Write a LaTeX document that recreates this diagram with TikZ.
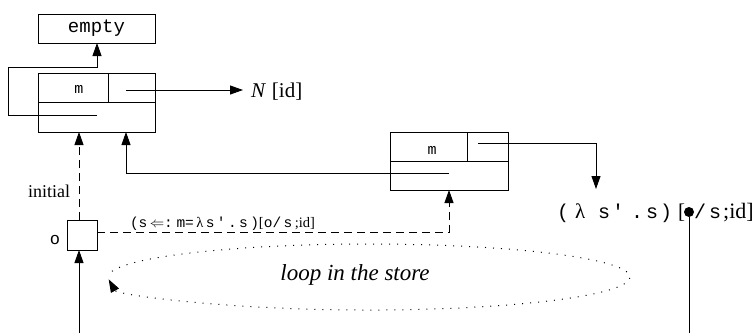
\documentclass[tikz,border=0pt]{standalone}
\usepackage{fontspec}
\setmainfont{Liberation Serif}
\setmonofont{Liberation Mono}
\usetikzlibrary{arrows.meta}
\begin{document}
\begin{tikzpicture}[x=1pt,y=-1pt,line width=0.9pt,
  box/.style={draw,rectangle,inner sep=0pt,outer sep=0pt},
  arr/.style={-{Triangle[length=13pt,width=9pt]}},
  dashln/.style={dash pattern=on 8pt off 5pt},
  dotln/.style={line width=1pt,dash pattern=on 1pt off 7pt},
  lbl/.style={inner sep=0pt,outer sep=0pt}]
\useasboundingbox (0,0) rectangle (756,333);
% top box
\node[box,minimum width=117pt,minimum height=29pt] (empty) at (96.5,28.5) {\fontsize{19}{19}\selectfont\ttfamily empty};
% left record
\node[box,minimum width=117pt,minimum height=59pt] (rec1) at (96.5,102.5) {};
\draw (38,102) -- (155,102);
\draw (108,73) -- (108,102);
\node[lbl] (m1) at (79,89) {\fontsize{15}{15}\selectfont\ttfamily m};
\coordinate (r1low) at (97,115);
\coordinate (r1ptr) at (126,90);
\draw[arr] (r1low) -- (8,115) -- (8,67) -- (97,67) -- (r1low |- empty.south);
\node[lbl,anchor=base west,inner xsep=8pt] (N) at (243,97) {\fontsize{21}{21}\selectfont\textit{N}\hspace{6pt}[id]};
\draw[arr] (r1ptr) -- (r1ptr -| N.west);
% middle record
\node[box,minimum width=118pt,minimum height=58pt] (rec2) at (449,161) {};
\draw (390,161) -- (508,161);
\draw (467,132) -- (467,161);
\node[lbl] (m2) at (432,150) {\fontsize{15}{15}\selectfont\ttfamily m};
\coordinate (r2ptr) at (478,143);
\coordinate (r2low) at (449,173);
\coordinate (lamtop) at (596,189);
\draw[arr] (r2ptr) -- (r2ptr -| lamtop) -- (lamtop);
\draw[arr] (r2low) -- (r1ptr |- r2low) -- (r1ptr |- rec1.south);
% lambda label
\node[lbl,anchor=base west] (lam) at (557,218) {\fontsize{20}{20}\selectfont\texttt{(}\hspace{6pt}{\fontsize{21}{21}\selectfont λ}\hspace{13pt}\texttt{s}\hspace{2pt}\texttt{'}\hspace{7pt}\texttt{.}\hspace{3pt}\texttt{s}\hspace{2pt}\texttt{)}\hspace{6pt}{\fontsize{21}{21}\selectfont [}\hspace{9pt}\texttt{/}\hspace{3pt}\texttt{s}\hspace{2pt}{\fontsize{22}{22}\selectfont ;id]}};
\node[circle,fill,inner sep=0pt,minimum size=10pt] (dot) at (689,212) {};
\coordinate (bot2) at (689,333);
\draw (dot) -- (bot2);
% o box
\node[box,minimum width=30pt,minimum height=30pt] (obox) at (82,235) {};
\node[lbl] (olab) at (55,240) {\fontsize{17}{17}\selectfont\ttfamily o};
\coordinate (otop) at (79,220);
\coordinate (obot) at (79,250);
\coordinate (bot1) at (79,333);
\draw[arr,dashln] (otop) -- (otop |- rec1.south);
\node[lbl,anchor=base east] (init) at (70,197) {\fontsize{18}{18}\selectfont initial};
\draw[arr] (bot1) -- (obot);
\coordinate (oright) at (97,232);
\draw[arr,dashln] (oright) -- (r2low |- oright) -- (r2low |- rec2.south);
\node[lbl,anchor=base west] (trans) at (130,227) {\fontsize{14.5}{14.5}\selectfont\texttt{(s}\,$\Leftarrow$\texttt{:}\ \texttt{m=}\,λ\,\texttt{s\,'\,.\,s\,)}[\texttt{o/\,s}\,;id]};
% loop
\draw[dotln,arr] (112,271.3) arc[start angle=170,end angle=-176,x radius=261pt,y radius=33pt];
\node[lbl,anchor=base] (loop) at (355,280) {\fontsize{23}{23}\selectfont\itshape loop in the store};
\end{tikzpicture}
\end{document}
